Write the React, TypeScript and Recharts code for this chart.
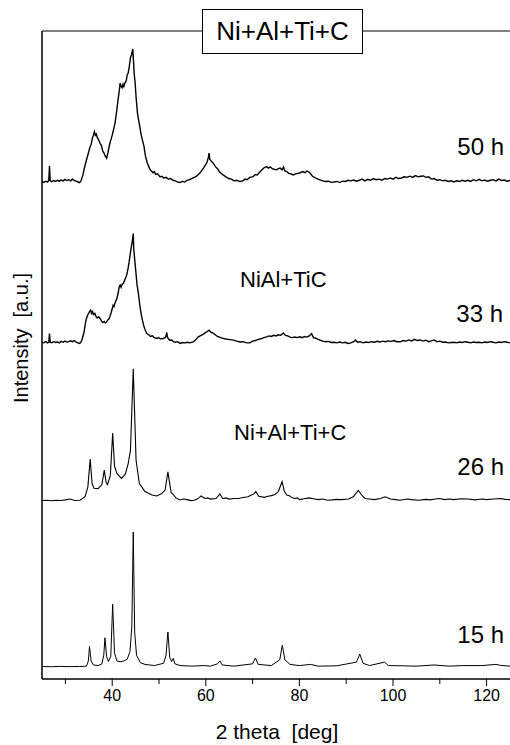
import React from 'react';
import { LineChart, Line, XAxis, YAxis } from 'recharts';

// 2-theta tick values
const majorTicks: number[] = [40, 60, 80, 100, 120];
const allTicks: number[] = [30, 40, 50, 60, 70, 80, 90, 100, 110, 120];
const yTicks: number[] = Array.from({ length: 57 }, (_, i) => i);

// vertical stacking offsets (a.u.)
const offset15 = 1.06;
const offset26 = 15.4;
const offset33 = 29.0;
const offset50 = 42.9;

const h15: [number, number][] = [
  [25.0, 0.02], [27, 0.0], [29, 0.03], [31, 0.01], [33, 0.02], [34.5, 0.05], [34.9, 0.5], [35.15, 1.75], [35.5, 0.5],
  [36.0, 0.15], [37.0, 0.1], [37.8, 0.25], [38.2, 1.0], [38.45, 2.5], [38.8, 0.9], [39.2, 0.45], [39.7, 0.9],
  [40.1, 5.4], [40.5, 1.2], [41.0, 0.5], [41.7, 0.43], [42.5, 0.5], [43.2, 0.65], [43.8, 1.3], [44.2, 3.5],
  [44.5, 11.65], [44.8, 3.0], [45.2, 1.0], [46.0, 0.35], [47, 0.2], [49, 0.1], [51.0, 0.3], [51.5, 1.0],
  [51.9, 3.0], [52.3, 0.8], [52.7, 0.45], [53.05, 0.72], [53.4, 0.25], [54.5, 0.1], [57, 0.05], [59.5, 0.1],
  [61, 0.05], [62.5, 0.25], [63.0, 0.5], [63.5, 0.15], [66, 0.05], [70, 0.25], [70.6, 0.75], [71.2, 0.2],
  [74, 0.1], [75.8, 0.6], [76.35, 1.85], [76.9, 0.6], [78, 0.2], [80, 0.1], [82.4, 0.2], [84, 0.05], [88, 0.08],
  [92.2, 0.4], [92.9, 1.1], [93.6, 0.3], [95, 0.1], [98.2, 0.4], [99, 0.1], [102, 0.08], [105, 0.05],
  [108.8, 0.15], [112, 0.05], [115, 0.1], [119, 0.1], [122, 0.2], [123, 0.12], [125, 0.05],
];

const h26: [number, number][] = [
  [25.0, 0.02], [26, 0.05], [27, 0.0], [28, 0.04], [29, 0.02], [30, 0.08], [31, 0.15], [32, 0.03], [33.1, 0.05],
  [34.2, 0.35], [34.8, 1.2], [35.3, 3.6], [35.7, 1.5], [36.1, 1.08], [37, 1.05], [37.8, 1.4], [38.3, 2.65],
  [38.7, 1.6], [39.0, 1.4], [39.6, 2.2], [40.1, 5.85], [40.5, 3.0], [41.0, 2.37], [42.0, 1.94], [42.8, 2.3],
  [43.4, 3.2], [43.9, 4.35], [44.5, 11.4], [45.1, 3.5], [45.8, 1.5], [47.0, 0.8], [48.5, 0.5], [49.5, 0.42],
  [50.5, 0.6], [51.3, 0.93], [51.9, 2.5], [52.6, 0.7], [53.0, 0.58], [53.6, 0.25], [54.5, 0.07], [55.2, 0.15],
  [56, 0.1], [56.8, 0.02], [57.5, 0.05], [58.2, 0.15], [59.0, 0.42], [59.8, 0.2], [60.4, 0.25], [61, 0.15],
  [62.2, 0.2], [63.0, 0.6], [63.6, 0.2], [64.3, 0.25], [65, 0.15], [66, 0.2], [67, 0.2], [68, 0.28], [69, 0.35],
  [70.3, 0.6], [70.7, 0.8], [71.3, 0.4], [72.5, 0.3], [73.3, 0.4], [74, 0.45], [74.8, 0.55], [75.5, 0.8],
  [76.3, 1.65], [76.8, 0.8], [77.3, 0.5], [77.8, 0.45], [78.3, 0.3], [79, 0.2], [79.6, 0.25], [80, 0.1],
  [81, 0.18], [82, 0.25], [83, 0.18], [84, 0.1], [85, 0.15], [86, 0.05], [87, 0.08], [88, 0.12], [89, 0.1],
  [90.5, 0.15], [91.5, 0.35], [92.6, 0.9], [93.3, 0.5], [94, 0.2], [95, 0.15], [96, 0.1], [97.3, 0.2],
  [98.3, 0.35], [99.5, 0.15], [100.5, 0.1], [101.5, 0.05], [103, 0.15], [104, 0.1], [105.5, 0.05], [107, 0.12],
  [108, 0.08], [109, 0.15], [110, 0.2], [111, 0.1], [112, 0.15], [113, 0.1], [114.5, 0.18], [116, 0.15],
  [117.5, 0.08], [119, 0.15], [120, 0.1], [121.5, 0.15], [123, 0.2], [124, 0.12], [125, 0.1],
];

const h33: [number, number][] = [
  [25.0, 0.1], [25.4, 0.05], [25.8, 0.15], [26.2, 0.05], [26.45, 0.1], [26.6, 0.86], [26.75, 0.1], [27.1, 0.05],
  [27.5, 0.15], [27.9, 0.08], [28.3, 0.12], [28.7, 0.05], [29.1, 0.18], [29.5, 0.1], [29.9, 0.2], [30.3, 0.12],
  [30.7, 0.15], [31.1, 0.22], [31.5, 0.15], [31.9, 0.25], [32.3, 0.12], [32.7, 0.05], [33.0, 0.0], [33.3, 0.08],
  [33.6, 0.4], [34.0, 1.0], [34.3, 1.8], [34.5, 2.16], [34.8, 2.5], [35.0, 2.6], [35.2, 2.8], [35.4, 2.88],
  [35.6, 2.6], [35.8, 2.75], [36.0, 2.5], [36.3, 2.6], [36.5, 2.35], [36.8, 2.2], [37.1, 2.3], [37.4, 2.16],
  [37.7, 1.95], [38.0, 1.8], [38.3, 1.9], [38.5, 1.78], [38.8, 1.85], [39.0, 2.0], [39.3, 2.1], [39.5, 2.3],
  [39.8, 2.7], [40.0, 3.0], [40.2, 3.3], [40.4, 3.2], [40.6, 3.5], [40.8, 3.7], [41.0, 3.89], [41.3, 4.4],
  [41.5, 4.9], [41.7, 5.04], [41.9, 4.85], [42.1, 5.1], [42.4, 5.2], [42.7, 5.5], [43.1, 5.9], [43.4, 6.5],
  [43.6, 7.0], [43.8, 7.6], [44.0, 8.1], [44.2, 8.6], [44.35, 9.0], [44.5, 9.5], [44.6, 8.2], [44.8, 7.3],
  [45.1, 6.0], [45.3, 5.1], [45.6, 4.3], [45.9, 3.3], [46.3, 2.3], [46.7, 1.6], [47.0, 1.2], [47.4, 0.86],
  [47.8, 0.75], [48.2, 0.6], [48.6, 0.65], [49.0, 0.5], [49.5, 0.43], [49.9, 0.5], [50.3, 0.4], [50.9, 0.43],
  [51.3, 0.5], [51.5, 0.65], [51.65, 0.95], [51.8, 0.55], [52.0, 0.4], [52.3, 0.28], [52.7, 0.3], [53.1, 0.15],
  [53.5, 0.1], [54.0, 0.15], [54.5, 0.0], [55.0, 0.08], [55.5, 0.05], [56.0, 0.1], [56.6, 0.05], [57.3, 0.14],
  [57.8, 0.3], [58.4, 0.57], [59.0, 0.7], [59.5, 0.8], [60.0, 0.95], [60.4, 1.05], [60.7, 1.15], [61.0, 1.0],
  [61.5, 0.9], [62.0, 0.75], [62.5, 0.6], [63.2, 0.5], [64.0, 0.4], [64.8, 0.35], [65.9, 0.29], [66.6, 0.2],
  [67.3, 0.12], [68.0, 0.15], [68.7, 0.05], [69.4, 0.05], [70.0, 0.2], [70.6, 0.25], [71.2, 0.35], [71.8, 0.4],
  [72.4, 0.5], [73.0, 0.57], [73.5, 0.65], [74.0, 0.6], [74.5, 0.7], [75.0, 0.65], [75.5, 0.75], [76.0, 0.7],
  [76.6, 0.9], [77.0, 0.7], [77.5, 0.65], [78.0, 0.55], [78.5, 0.5], [79.0, 0.55], [79.5, 0.5], [80.1, 0.57],
  [80.6, 0.5], [81.1, 0.6], [81.6, 0.55], [82.1, 0.65], [82.6, 0.85], [83.0, 0.5], [83.5, 0.45], [84.0, 0.35],
  [84.4, 0.29], [85.0, 0.2], [85.6, 0.15], [86.2, 0.18], [86.8, 0.08], [87.4, 0.1], [88.0, 0.05], [88.6, 0.12],
  [89.2, 0.05], [89.8, 0.1], [90.4, 0.0], [91.0, 0.05], [91.6, 0.15], [92.0, 0.3], [92.4, 0.1], [93.0, 0.15],
  [93.6, 0.05], [94.2, 0.12], [94.8, 0.08], [95.4, 0.15], [96.0, 0.1], [96.6, 0.18], [97.2, 0.12], [97.8, 0.2],
  [98.4, 0.15], [99.0, 0.22], [99.6, 0.18], [100.2, 0.25], [100.8, 0.15], [101.5, 0.14], [102.2, 0.25],
  [102.8, 0.2], [103.4, 0.3], [104.0, 0.22], [104.6, 0.35], [105.2, 0.25], [105.8, 0.3], [106.4, 0.2],
  [107.0, 0.28], [107.6, 0.15], [108.2, 0.22], [108.8, 0.3], [109.4, 0.15], [110.0, 0.2], [110.6, 0.1],
  [111.2, 0.12], [111.8, 0.05], [112.4, 0.08], [113.0, 0.1], [113.6, 0.05], [114.2, 0.12], [114.8, 0.08],
  [115.4, 0.15], [116.0, 0.1], [116.6, 0.05], [117.2, 0.12], [117.8, 0.08], [118.4, 0.1], [119.0, 0.05],
  [119.6, 0.12], [120.2, 0.08], [120.8, 0.15], [121.4, 0.1], [122.0, 0.05], [122.6, 0.12], [123.2, 0.08],
  [123.8, 0.15], [124.4, 0.1], [125.0, 0.05],
];

const h50: [number, number][] = [
  [25.0, 0.1], [25.4, 0.02], [25.8, 0.12], [26.2, 0.05], [26.45, 0.2], [26.6, 1.45], [26.75, 0.15], [27.1, 0.08],
  [27.5, 0.18], [27.9, 0.1], [28.3, 0.2], [28.7, 0.12], [29.1, 0.22], [29.5, 0.15], [29.9, 0.28], [30.3, 0.18],
  [30.7, 0.25], [31.1, 0.15], [31.5, 0.3], [31.9, 0.2], [32.3, 0.12], [32.7, 0.05], [33.0, 0.0], [33.3, 0.1],
  [33.7, 0.6], [34.2, 1.5], [34.6, 2.1], [34.9, 2.54], [35.2, 3.0], [35.5, 3.3], [35.8, 3.9], [36.0, 4.1],
  [36.2, 4.4], [36.4, 4.1], [36.6, 4.2], [36.8, 3.9], [37.1, 3.7], [37.4, 3.4], [37.7, 3.2], [38.0, 2.7],
  [38.2, 2.6], [38.5, 2.3], [38.8, 2.1], [39.1, 2.6], [39.5, 3.4], [39.8, 3.8], [40.0, 4.1], [40.3, 4.6],
  [40.6, 5.13], [40.9, 6.0], [41.2, 7.0], [41.5, 7.9], [41.7, 8.6], [41.9, 8.3], [42.1, 8.2], [42.3, 8.5],
  [42.5, 8.3], [42.7, 8.6], [43.0, 8.8], [43.2, 9.3], [43.4, 9.45], [43.6, 9.9], [43.9, 10.8], [44.1, 11.0],
  [44.25, 11.3], [44.4, 11.55], [44.55, 10.5], [44.7, 9.4], [44.9, 8.6], [45.1, 7.4], [45.4, 6.0], [45.6, 5.5],
  [45.9, 4.84], [46.2, 4.1], [46.5, 3.6], [46.8, 3.11], [47.1, 2.3], [47.5, 1.7], [47.8, 1.4], [48.1, 1.1],
  [48.4, 1.0], [48.7, 0.85], [49.0, 0.95], [49.3, 0.7], [49.7, 0.75], [50.2, 0.5], [50.6, 0.55], [51.0, 0.4],
  [51.5, 0.45], [52.0, 0.3], [52.5, 0.35], [53.0, 0.2], [53.5, 0.15], [54.0, 0.05], [54.5, 0.0], [55.0, 0.1],
  [55.5, 0.05], [56.0, 0.2], [56.5, 0.25], [57.0, 0.35], [57.5, 0.45], [57.9, 0.52], [58.4, 0.7], [58.9, 0.9],
  [59.5, 1.25], [59.9, 1.5], [60.3, 1.8], [60.55, 2.2], [60.7, 2.55], [60.85, 2.0], [61.1, 1.9], [61.4, 1.75],
  [61.6, 1.67], [62.0, 1.4], [62.5, 1.2], [63.0, 0.9], [63.7, 0.66], [64.3, 0.5], [64.9, 0.35], [65.5, 0.3],
  [66.0, 0.15], [66.6, 0.2], [67.3, 0.09], [67.9, 0.15], [68.4, 0.3], [68.8, 0.25], [69.4, 0.45], [70.1, 0.52],
  [70.6, 0.7], [71.0, 0.65], [71.5, 0.9], [72.0, 1.1], [72.5, 1.3], [73.0, 1.38], [73.4, 1.25], [73.8, 1.35],
  [74.2, 1.2], [74.6, 1.15], [75.1, 1.1], [75.5, 1.2], [75.9, 1.25], [76.3, 1.1], [76.6, 1.35], [76.9, 1.0],
  [77.3, 0.95], [77.7, 0.8], [78.2, 0.75], [78.7, 0.66], [79.2, 0.75], [79.7, 0.8], [80.2, 0.85], [80.7, 0.95],
  [81.2, 0.85], [81.6, 1.0], [81.9, 0.95], [82.3, 0.8], [82.8, 0.55], [83.4, 0.4], [84.0, 0.3], [84.4, 0.23],
  [85.0, 0.15], [85.6, 0.1], [86.2, 0.12], [86.8, 0.02], [87.4, 0.05], [88.0, 0.1], [88.6, 0.0], [89.2, 0.12],
  [89.8, 0.1], [90.4, 0.2], [91.0, 0.15], [91.6, 0.22], [92.2, 0.12], [92.8, 0.2], [93.4, 0.3], [94.0, 0.15],
  [94.6, 0.28], [95.2, 0.2], [95.8, 0.35], [96.4, 0.25], [97.0, 0.3], [97.6, 0.2], [98.2, 0.35], [98.8, 0.3],
  [99.4, 0.4], [100.0, 0.3], [100.6, 0.45], [101.2, 0.35], [101.8, 0.4], [102.4, 0.5], [103.0, 0.45],
  [103.6, 0.55], [104.2, 0.45], [104.8, 0.6], [105.4, 0.5], [106.0, 0.55], [106.5, 0.58], [107.0, 0.45],
  [107.6, 0.5], [108.2, 0.3], [108.8, 0.35], [109.4, 0.2], [110.0, 0.25], [110.6, 0.15], [111.2, 0.2],
  [111.8, 0.1], [112.4, 0.15], [113.0, 0.05], [113.6, 0.15], [114.2, 0.1], [114.8, 0.2], [115.4, 0.12],
  [116.0, 0.2], [116.6, 0.1], [117.2, 0.25], [117.8, 0.15], [118.4, 0.28], [119.0, 0.15], [119.6, 0.22],
  [120.2, 0.12], [120.8, 0.2], [121.4, 0.25], [122.0, 0.15], [122.6, 0.3], [123.2, 0.18], [123.8, 0.22],
  [124.4, 0.1], [125.0, 0.2],
];

const toRows = (arr: [number, number][], off: number) => arr.map(([t, v]) => ({ t, y: v + off }));

const series = [
  { name: '15 h', data: toRows(h15, offset15), w: 1 },
  { name: '26 h', data: toRows(h26, offset26), w: 1.1 },
  { name: '33 h', data: toRows(h33, offset33), w: 1.4 },
  { name: '50 h', data: toRows(h50, offset50), w: 1.4 },
];

const FONT = '"Liberation Sans", Arial, Helvetica, sans-serif';

const BottomTick = (props: any) => {
  const { x, y, payload } = props;
  const major = majorTicks.includes(payload.value);
  return (
    <g>
      <line x1={x} x2={x} y1={y} y2={y + (major ? 7 : 5)} stroke="#000" strokeWidth={1} />
      {major && (
        <text x={x} y={y + 22} textAnchor="middle" fontSize={16} fontFamily={FONT} fill="#000">
          {payload.value}
        </text>
      )}
    </g>
  );
};

export default function App() {
  return (
    <div style={{ position: 'absolute', left: 0, top: 0, width: 510, height: 745, overflow: 'hidden', background: '#fff' }}>
      <LineChart width={520} height={745} margin={{ top: 0, right: 10, bottom: 6, left: 0 }}>
        <XAxis
          dataKey="t"
          type="number"
          domain={[25, 125]}
          ticks={allTicks}
          allowDataOverflow
          height={60}
          tickSize={0}
          tickMargin={0}
          tickLine={false}
          tick={<BottomTick />}
          axisLine={{ stroke: '#000', strokeWidth: 1.5 }}
        />
        <XAxis
          xAxisId="top"
          orientation="top"
          dataKey="t"
          type="number"
          domain={[25, 125]}
          ticks={allTicks}
          allowDataOverflow
          height={31}
          tickSize={-3}
          tick={false}
          tickLine={{ stroke: '#000' }}
          axisLine={{ stroke: '#000', strokeWidth: 1 }}
        />
        <YAxis
          type="number"
          domain={[0, 56]}
          ticks={yTicks}
          allowDataOverflow
          width={42}
          tickSize={-3}
          tick={false}
          tickLine={{ stroke: '#000' }}
          axisLine={{ stroke: '#000', strokeWidth: 1.5 }}
        />
        {series.map((s) => (
          <Line
            key={s.name}
            data={s.data}
            dataKey="y"
            name={s.name}
            type="linear"
            stroke="#000"
            strokeWidth={s.w}
            dot={false}
            activeDot={false}
            isAnimationActive={false}
          />
        ))}
      </LineChart>
      <svg width={510} height={745} style={{ position: 'absolute', left: 0, top: 0, pointerEvents: 'none' }}>
        <rect x={202.5} y={9.5} width={160} height={44} fill="#fff" stroke="#000" strokeWidth={1} />
        <text x={282.5} y={40} textAnchor="middle" fontSize={26} fontFamily={FONT} fill="#000">Ni+Al+Ti+C</text>
        <text x={504} y={155} textAnchor="end" fontSize={24} fontFamily={FONT} fill="#000">50 h</text>
        <text x={503} y={322} textAnchor="end" fontSize={24} fontFamily={FONT} fill="#000">33 h</text>
        <text x={504} y={475} textAnchor="end" fontSize={24} fontFamily={FONT} fill="#000">26 h</text>
        <text x={504} y={643} textAnchor="end" fontSize={24} fontFamily={FONT} fill="#000">15 h</text>
        <text x={240} y={287} fontSize={22} fontFamily={FONT} fill="#000">NiAl+TiC</text>
        <text x={234} y={440} fontSize={22} fontFamily={FONT} fill="#000">Ni+Al+Ti+C</text>
        <text x={277} y={739} textAnchor="middle" fontSize={21} fontFamily={FONT} fill="#000">
          {'2 theta\u00a0 [deg]'}
        </text>
        <text
          x={0}
          y={0}
          transform="translate(28, 338) rotate(-90)"
          textAnchor="middle"
          fontSize={20}
          fontFamily={FONT}
          fill="#000"
        >
          {'Intensity\u00a0 [a.u.]'}
        </text>
      </svg>
    </div>
  );
}
